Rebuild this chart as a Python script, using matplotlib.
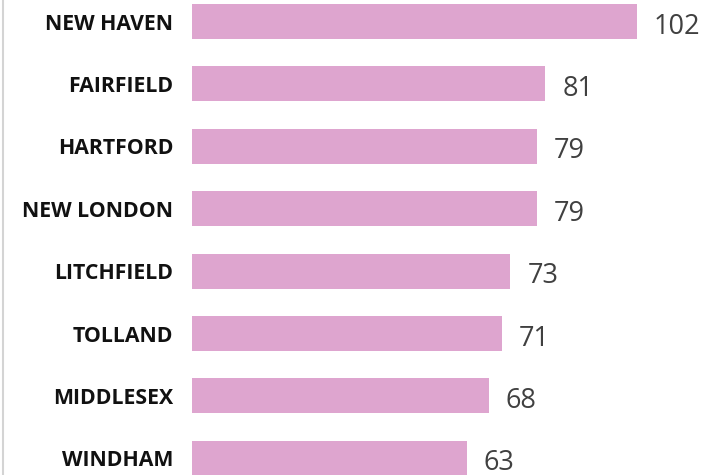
import matplotlib
matplotlib.use("Agg")
import matplotlib.pyplot as plt

counties = ["NEW HAVEN", "FAIRFIELD", "HARTFORD", "NEW LONDON",
            "LITCHFIELD", "TOLLAND", "MIDDLESEX", "WINDHAM"]
values = [102, 81, 79, 79, 73, 71, 68, 63]

W, H = 728, 475
fig = plt.figure(figsize=(W / 100, H / 100), dpi=100)
x0 = 192
ax = fig.add_axes([x0 / W, 0, 1 - x0 / W, 1])

px_per_unit = (637 - 192) / 102.0
ax.set_xlim(0, (W - x0) / px_per_unit)
pitch = 62.4
c0 = 21.5
ax.set_ylim((H - c0) / pitch, -c0 / pitch)

ys = list(range(len(counties)))
ax.barh(ys, values, height=35 / pitch, color="#DEA5CF", edgecolor="none")

for y, v in zip(ys, values):
    ax.annotate(str(v), xy=(v, y), xytext=(17, -5), textcoords="offset pixels",
                ha="left", va="center", fontsize=19.5, color="#404040",
                family="Open Sans")

ax.set_yticks(ys)
ax.set_yticklabels(counties, fontsize=15.3, fontweight="bold", family="Open Sans",
                   color="#111111")
ax.tick_params(axis="y", length=0, pad=13.5)
ax.set_xticks([])
for s in ax.spines.values():
    s.set_visible(False)

# left grey border line
fig.add_artist(plt.Line2D([2.5 / W, 2.5 / W], [0, 1], transform=fig.transFigure,
                          color="#D4D4D4", linewidth=1.5))

fig.savefig("out.png", dpi=100)
